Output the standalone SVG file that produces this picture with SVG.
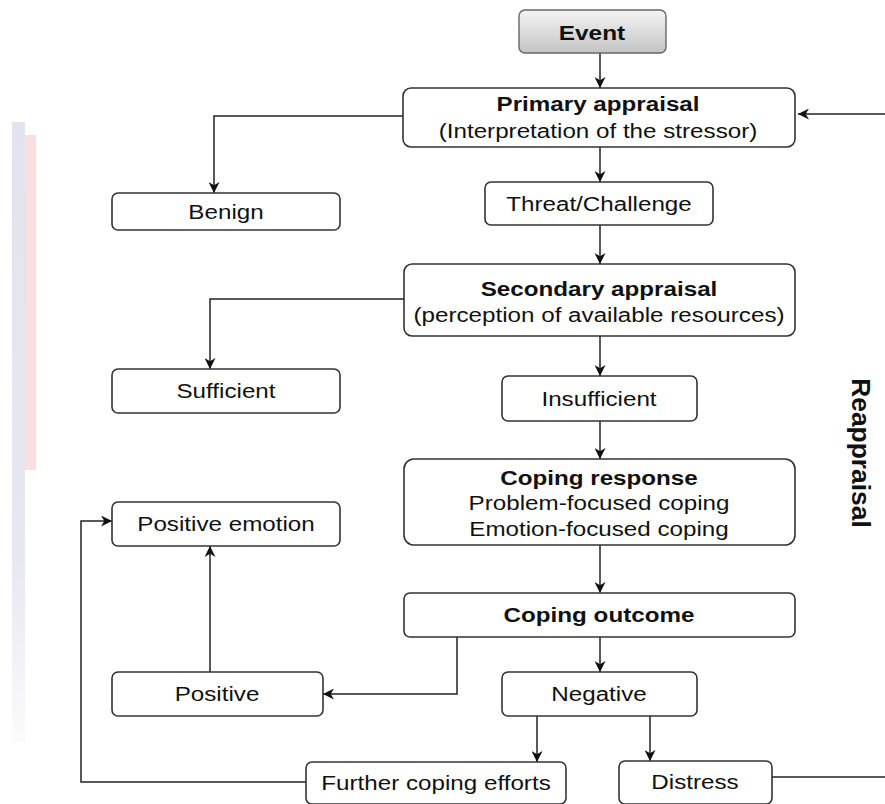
<svg xmlns="http://www.w3.org/2000/svg" width="885" height="804" viewBox="0 0 885 804">
<defs>
<linearGradient id="evg" x1="0" y1="0" x2="0" y2="1">
<stop offset="0" stop-color="#f4f4f4"/>
<stop offset="1" stop-color="#c4c4c4"/>
</linearGradient>
<linearGradient id="wm" x1="0" y1="0" x2="0" y2="1">
<stop offset="0" stop-color="#e1e4ee"/>
<stop offset="0.7" stop-color="#e6e8f0"/>
<stop offset="1" stop-color="#fbfbfd"/>
</linearGradient>
<marker id="ah" viewBox="0 0 10 10" refX="10" refY="5" markerWidth="11" markerHeight="11" markerUnits="userSpaceOnUse" orient="auto">
<path d="M0,0 L10,5 L0,10 L3,5 Z" fill="#111"/>
</marker>
</defs>
<style>
.box{fill:#fff;stroke:#333;stroke-width:1.6}
.ev{fill:url(#evg);stroke:#666;stroke-width:1.4}
text{font-family:"Liberation Sans",Arial,Helvetica,sans-serif;font-size:20px;fill:#111;text-anchor:middle}
.b{font-weight:bold}
.c{fill:none;stroke:#222;stroke-width:1.5}
.a{marker-end:url(#ah)}
</style>
<rect x="0" y="0" width="885" height="804" fill="#fff"/>
<g id="watermark">
<rect x="12" y="122" width="13" height="620" fill="url(#wm)"/>
<rect x="25" y="135" width="11" height="335" fill="#f9dfe0"/>
</g>
<g id="connectors">
<line class="c a" x1="600" y1="53" x2="600" y2="88"/>
<line class="c a" x1="885" y1="114" x2="798" y2="114"/>
<polyline class="c a" points="403,116 214,116 214,193"/>
<line class="c a" x1="600" y1="147" x2="600" y2="182"/>
<line class="c a" x1="600" y1="225" x2="600" y2="264"/>
<polyline class="c a" points="404,299 210,299 210,369"/>
<line class="c a" x1="600" y1="336" x2="600" y2="376"/>
<line class="c a" x1="600" y1="421" x2="600" y2="459"/>
<line class="c a" x1="600" y1="545" x2="600" y2="593"/>
<polyline class="c a" points="457,637 457,694 323,694"/>
<line class="c a" x1="600" y1="637" x2="600" y2="672"/>
<line class="c a" x1="210" y1="672" x2="210" y2="546"/>
<line class="c a" x1="537" y1="716" x2="537" y2="762"/>
<line class="c a" x1="650" y1="716" x2="650" y2="761"/>
<polyline class="c a" points="306,782 81,782 81,521 112,521"/>
<line class="c" x1="772" y1="777" x2="885" y2="777"/>
</g>
<g id="event"><rect class="ev" x="519" y="10" width="147" height="43" rx="6"/><text class="b" transform="translate(592,40) scale(1.22,1)">Event</text></g>
<g id="primary"><rect class="box" x="403" y="88" width="392" height="59" rx="8"/><text class="b" transform="translate(598,111) scale(1.21,1)">Primary appraisal</text><text transform="translate(598,138) scale(1.21,1)">(Interpretation of the stressor)</text></g>
<g id="benign"><rect class="box" x="112" y="193" width="228" height="37" rx="6"/><text transform="translate(226,219) scale(1.21,1)">Benign</text></g>
<g id="threat"><rect class="box" x="485" y="182" width="228" height="43" rx="6"/><text transform="translate(599,211) scale(1.21,1)">Threat/Challenge</text></g>
<g id="secondary"><rect class="box" x="404" y="264" width="391" height="72" rx="8"/><text class="b" transform="translate(599,296) scale(1.21,1)">Secondary appraisal</text><text transform="translate(599,322) scale(1.21,1)">(perception of available resources)</text></g>
<g id="sufficient"><rect class="box" x="112" y="369" width="228" height="44" rx="6"/><text transform="translate(226,398) scale(1.21,1)">Sufficient</text></g>
<g id="insufficient"><rect class="box" x="502" y="376" width="195" height="45" rx="6"/><text transform="translate(599,406) scale(1.21,1)">Insufficient</text></g>
<g id="positive-emotion"><rect class="box" x="112" y="502" width="228" height="44" rx="6"/><text transform="translate(226,531) scale(1.21,1)">Positive emotion</text></g>
<g id="coping-response"><rect class="box" x="404" y="459" width="391" height="86" rx="10"/><text class="b" transform="translate(599,485) scale(1.21,1)">Coping response</text><text transform="translate(599,510) scale(1.21,1)">Problem-focused coping</text><text transform="translate(599,536) scale(1.21,1)">Emotion-focused coping</text></g>
<g id="coping-outcome"><rect class="box" x="404" y="593" width="391" height="44" rx="6"/><text class="b" transform="translate(599,622) scale(1.21,1)">Coping outcome</text></g>
<g id="positive"><rect class="box" x="112" y="672" width="211" height="44" rx="6"/><text transform="translate(217,701) scale(1.21,1)">Positive</text></g>
<g id="negative"><rect class="box" x="502" y="672" width="195" height="44" rx="6"/><text transform="translate(599,701) scale(1.21,1)">Negative</text></g>
<g id="further"><rect class="box" x="306" y="762" width="260" height="42" rx="6"/><text transform="translate(436,790) scale(1.21,1)">Further coping efforts</text></g>
<g id="distress"><rect class="box" x="619" y="761" width="153" height="43" rx="6"/><text transform="translate(695,789) scale(1.21,1)">Distress</text></g>
<g id="reappraisal"><text class="b" transform="translate(852,453) rotate(90) scale(1.1,1.05)" style="font-size:24px">Reappraisal</text></g>
</svg>
